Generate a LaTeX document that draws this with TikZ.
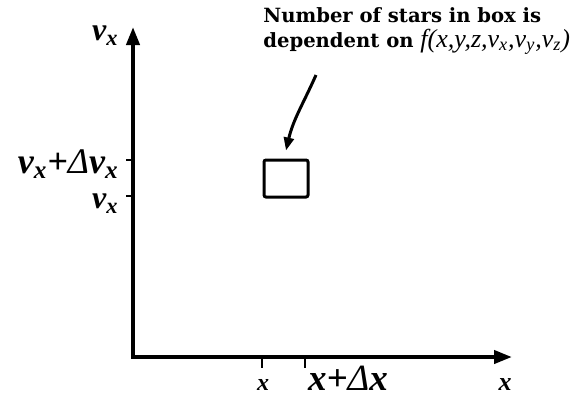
\documentclass[tikz,border=0pt]{standalone}
\usepackage{fontspec}
\newfontfamily\notefont{DejaVu Serif}
\newfontfamily\labfont{Liberation Serif}
\usetikzlibrary{arrows.meta}

\begin{document}
\begin{tikzpicture}[
  x=0.5pt, y=0.5pt,
  axis/.style={line width=2pt, line join=miter, {Triangle[length=9pt,width=6.5pt]}-{Triangle[length=9pt,width=6.5pt]}},
  tick/.style={line width=1pt},
  lab/.style={inner sep=0pt, font=\labfont\bfseries\itshape\fontsize{#1}{#1}\selectfont},
  cell/.style={draw, line width=1.5pt, rounded corners=1pt, minimum width=22pt, minimum height=18.5pt, inner sep=0pt},
  pointer/.style={line width=1.5pt, -{Triangle[length=6.5pt,width=5pt]}},
]
\useasboundingbox (0,0) rectangle (571,398);
\coordinate (origin) at (133,41);
\coordinate (ytop) at (133,371);
\coordinate (xend) at (512,41);
\draw[axis] (ytop) -- (origin) -- (xend);
\coordinate (vhi) at (133,238);
\coordinate (vlo) at (133,202);
\coordinate (xlo) at (262,40);
\coordinate (xhi) at (305,40);
\draw[tick] (vhi) -- ++(-7,0);
\draw[tick] (vlo) -- ++(-7,0);
\draw[tick] (xlo) -- ++(0,-10);
\draw[tick] (xhi) -- ++(0,-10);
\node[lab=16, anchor=east] (vtop) at (119,362) {v\textsubscript{x}};
\node[lab=18, anchor=east] (vhilab) at (119,234) {v\textsubscript{x}+\mdseries Δ\bfseries v\textsubscript{x}};
\node[lab=16, anchor=east] (vlolab) at (119,194) {v\textsubscript{x}};
\node[lab=12] (xlolab) at (263,13) {x};
\node[lab=18.5] (xhilab) at (348,20) {x+\mdseries Δ\bfseries x};
\node[lab=13] (xaxlab) at (505,13) {x};
\node[cell] (cell) at (286,219.5) {};
\node[anchor=north west, align=left, inner sep=0pt, font=\notefont\bfseries\fontsize{9.8}{12.5}\selectfont] (note) at (263,391)
  {Number of stars in box is\\dependent on\ {\labfont\mdseries\itshape\fontsize{13}{13}\selectfont f(x,y,z,v\textsubscript{x},v\textsubscript{y},v\textsubscript{z})}};
\coordinate (tail) at (316,323);
\draw[pointer] (tail) to[out=-114,in=77] ([yshift=4pt]cell.north);
\end{tikzpicture}
\end{document}
